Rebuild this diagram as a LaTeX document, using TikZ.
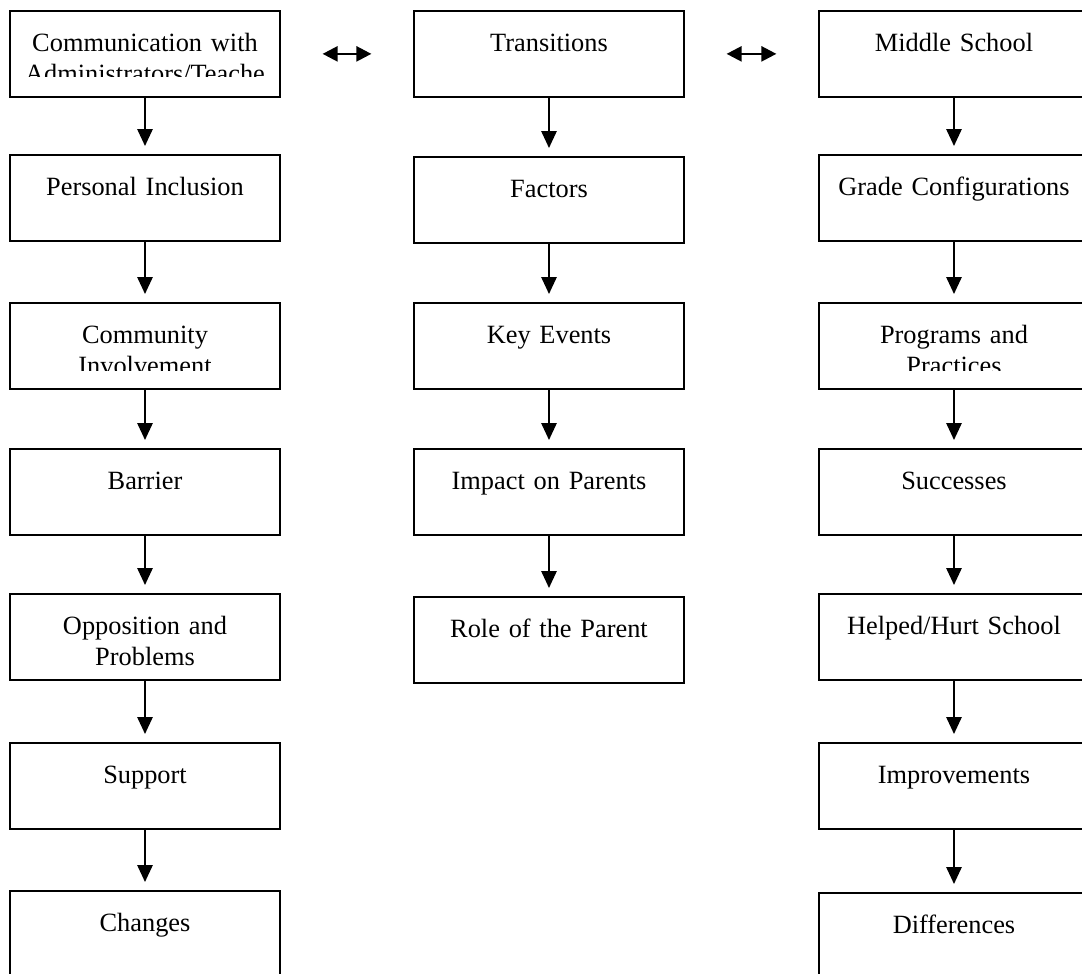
\documentclass[tikz,border=0pt]{standalone}
\usepackage{fontspec}
\setmainfont{Liberation Serif}
\usetikzlibrary{arrows.meta,calc}

\tikzset{
  topic/.style={draw, line width=0.8pt, anchor=north, inner sep=0pt,
    text width=43.2mm, align=center, text height=6.56mm, text depth=7.2mm,
    font=\fontsize{12pt}{13.8pt}\selectfont},
  down/.style={line width=1.2pt, -{Triangle[length=7.7pt,width=6.8pt]}, shorten >=3.6pt},
  both/.style={line width=1.1pt, {Triangle[length=6.8pt,width=6.8pt]}-{Triangle[length=6.8pt,width=6.8pt]},
    shorten <=19pt, shorten >=19pt},
  cut/.style={fill=white}
}

\begin{document}
\begin{tikzpicture}[x=0.16mm,y=-0.16mm]
\clip (0,0) rectangle (1082,974);

\node[topic] (comm) at (145,10) {Communication with\\Administrators/Teache};
\node[topic] (pers) at (145,154) {Personal Inclusion};
\node[topic] (cinv) at (145,302) {Community\\Involvement};
\node[topic] (barr) at (145,448) {Barrier};
\node[topic] (oppo) at (145,593) {Opposition and\\Problems};
\node[topic] (supp) at (145,742) {Support};
\node[topic] (chan) at (145,890) {Changes};

\node[topic] (tran) at (549,10) {Transitions};
\node[topic] (fact) at (549,156) {Factors};
\node[topic] (keye) at (549,302) {Key Events};
\node[topic] (impa) at (549,448) {Impact on Parents};
\node[topic] (role) at (549,596) {Role of the Parent};

\node[topic] (mids) at (954,10) {Middle School};
\node[topic] (grad) at (954,154) {Grade Configurations};
\node[topic] (prog) at (954,302) {Programs and\\Practices};
\node[topic] (succ) at (954,448) {Successes};
\node[topic] (help) at (954,593) {Helped/Hurt School};
\node[topic] (impr) at (954,742) {Improvements};
\node[topic] (diff) at (954,892) {Differences};

% text running past the box margin is cut off
\fill[cut] ($(comm.north west)+(3,67)$) rectangle ($(comm.south east)+(-3,-3)$);
\fill[cut] ($(comm.north east)+(-16,40)$) rectangle ($(comm.south east)+(-3,-3)$);
\fill[cut] ($(cinv.north west)+(3,69)$) rectangle ($(cinv.south east)+(-3,-3)$);
\fill[cut] ($(prog.north west)+(3,69)$) rectangle ($(prog.south east)+(-3,-3)$);

\draw[down] (comm) -- (pers);
\draw[down] (pers) -- (cinv);
\draw[down] (cinv) -- (barr);
\draw[down] (barr) -- (oppo);
\draw[down] (oppo) -- (supp);
\draw[down] (supp) -- (chan);

\draw[down] (tran) -- (fact);
\draw[down] (fact) -- (keye);
\draw[down] (keye) -- (impa);
\draw[down] (impa) -- (role);

\draw[down] (mids) -- (grad);
\draw[down] (grad) -- (prog);
\draw[down] (prog) -- (succ);
\draw[down] (succ) -- (help);
\draw[down] (help) -- (impr);
\draw[down] (impr) -- (diff);

\draw[both] (comm.east) -- (tran.west);
\draw[both] (tran.east) -- (mids.west);
\end{tikzpicture}
\end{document}
